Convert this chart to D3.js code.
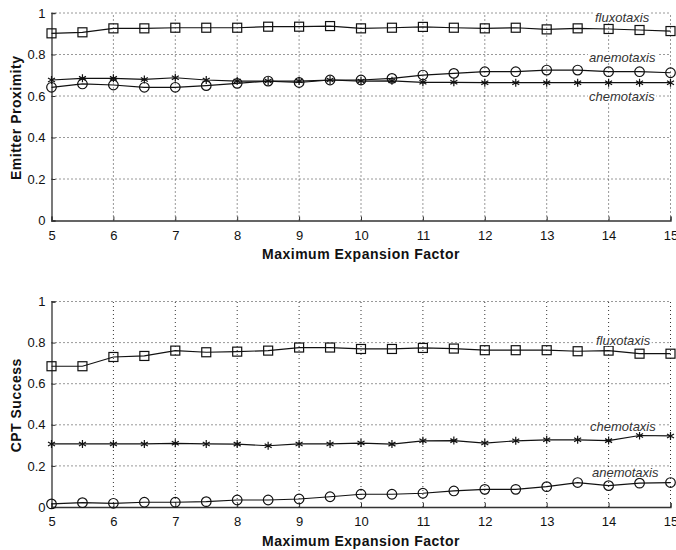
<!DOCTYPE html>
<html>
<head>
<meta charset="utf-8">
<script src="https://cdn.jsdelivr.net/npm/d3@7"></script>
<style>
  body { margin: 0; background: #fff; }
  svg { display: block; font-family: "Liberation Sans", Arial, sans-serif; }
  .tick text { font-size: 13px; fill: #111; }
  .axis-title { font-size: 14px; font-weight: bold; fill: #111; letter-spacing: 0.5px; }
  .series-label { font-size: 13px; font-style: italic; fill: #333; }
</style>
</head>
<body>
<div id="chart"></div>
<script>
const expansion = [5, 5.5, 6, 6.5, 7, 7.5, 8, 8.5, 9, 9.5, 10, 10.5, 11, 11.5, 12, 12.5, 13, 13.5, 14, 14.5, 15];
const xTicks = [5, 6, 7, 8, 9, 10, 11, 12, 13, 14, 15];
const yTicks = [0, 0.2, 0.4, 0.6, 0.8, 1];

// Emitter Proximity
const proxFluxotaxis = [0.902, 0.907, 0.926, 0.926, 0.929, 0.929, 0.929, 0.934, 0.934, 0.937, 0.926, 0.929, 0.933, 0.929, 0.926, 0.929, 0.921, 0.926, 0.923, 0.918, 0.913];
const proxChemotaxis = [0.677, 0.685, 0.685, 0.68, 0.688, 0.677, 0.672, 0.672, 0.672, 0.677, 0.672, 0.673, 0.666, 0.666, 0.664, 0.664, 0.664, 0.664, 0.664, 0.664, 0.664];
const proxAnemotaxis = [0.642, 0.658, 0.653, 0.642, 0.642, 0.65, 0.661, 0.672, 0.665, 0.677, 0.677, 0.685, 0.701, 0.709, 0.717, 0.717, 0.725, 0.725, 0.717, 0.717, 0.712];

// CPT Success
const cptFluxotaxis = [0.685, 0.685, 0.73, 0.735, 0.761, 0.753, 0.756, 0.761, 0.776, 0.776, 0.769, 0.769, 0.774, 0.771, 0.763, 0.763, 0.763, 0.758, 0.761, 0.746, 0.746];
const cptChemotaxis = [0.307, 0.307, 0.307, 0.307, 0.31, 0.307, 0.306, 0.298, 0.307, 0.307, 0.311, 0.306, 0.322, 0.323, 0.311, 0.322, 0.327, 0.327, 0.323, 0.348, 0.346];
const cptAnemotaxis = [0.015, 0.021, 0.018, 0.023, 0.023, 0.026, 0.034, 0.034, 0.039, 0.05, 0.062, 0.062, 0.067, 0.078, 0.086, 0.086, 0.099, 0.119, 0.104, 0.116, 0.119];

const panels = [
  {
    yTitle: "Emitter Proximity", top: 13, bottom: 220.5,
    series: [
      { name: "fluxotaxis", values: proxFluxotaxis, marker: "square", label: [595, 22] },
      { name: "anemotaxis", values: proxAnemotaxis, marker: "circle", label: [589, 62] },
      { name: "chemotaxis", values: proxChemotaxis, marker: "star", label: [589, 101] }
    ]
  },
  {
    yTitle: "CPT Success", top: 301.5, bottom: 507,
    series: [
      { name: "fluxotaxis", values: cptFluxotaxis, marker: "square", label: [596, 345] },
      { name: "chemotaxis", values: cptChemotaxis, marker: "star", label: [590, 431] },
      { name: "anemotaxis", values: cptAnemotaxis, marker: "circle", label: [592, 477] }
    ]
  }
];

const width = 676, height = 550;
const left = 51.5, right = 670.5;

const svg = d3.select("#chart").append("svg")
  .attr("width", width)
  .attr("height", height);

const x = d3.scaleLinear().domain([5, 15]).range([left, right]);

panels.forEach(p => {
  const y = d3.scaleLinear().domain([0, 1]).range([p.bottom, p.top]);
  const g = svg.append("g");

  // grid
  g.selectAll("line.vgrid")
    .data(xTicks.slice(1))
    .enter().append("line")
    .attr("x1", d => x(d)).attr("x2", d => x(d))
    .attr("y1", y(0)).attr("y2", y(1))
    .attr("stroke", "#333").attr("stroke-width", 1)
    .attr("stroke-dasharray", "1,3");
  g.selectAll("line.hgrid")
    .data(yTicks.slice(1))
    .enter().append("line")
    .attr("x1", x(5)).attr("x2", x(15))
    .attr("y1", d => y(d)).attr("y2", d => y(d))
    .attr("stroke", "#333").attr("stroke-width", 1)
    .attr("stroke-dasharray", "1,3");

  // axes
  const xAxis = g.append("g")
    .attr("transform", `translate(0,${p.bottom})`)
    .call(d3.axisBottom(x).tickValues(xTicks).tickSize(-4).tickPadding(8).tickFormat(d3.format("d")));
  const yAxis = g.append("g")
    .attr("transform", `translate(${left},0)`)
    .call(d3.axisLeft(y).tickValues(yTicks).tickSize(-4).tickPadding(6).tickFormat(d => d === 0 || d === 1 ? d : d3.format(".1f")(d)));
  [xAxis, yAxis].forEach(a => {
    a.select(".domain").attr("stroke", "#333").attr("stroke-width", 1.3);
    a.selectAll(".tick line").attr("stroke", "#333");
    a.selectAll(".tick text").attr("font-family", null).attr("font-size", null);
  });
  xAxis.selectAll(".tick text").attr("dy", "0.85em");

  // titles
  g.append("text").attr("class", "axis-title")
    .attr("x", (left + right) / 2).attr("y", p.bottom + 38.5)
    .attr("text-anchor", "middle")
    .text("Maximum Expansion Factor");
  g.append("text").attr("class", "axis-title")
    .attr("transform", `translate(21,${(p.top + p.bottom) / 2 + 1}) rotate(-90)`)
    .attr("text-anchor", "middle")
    .text(p.yTitle);

  const line = d3.line().x((d, i) => x(expansion[i])).y(d => y(d));

  p.series.forEach(s => {
    g.append("path")
      .datum(s.values)
      .attr("d", line)
      .attr("fill", "none")
      .attr("stroke", "#111")
      .attr("stroke-width", 1.2);

    const m = g.selectAll(null)
      .data(s.values)
      .enter().append("g")
      .attr("transform", (d, i) => `translate(${x(expansion[i])},${y(d)})`);
    if (s.marker === "square") {
      m.append("rect").attr("x", -4.5).attr("y", -4.5).attr("width", 9).attr("height", 9)
        .attr("fill", "none").attr("stroke", "#111").attr("stroke-width", 1.2);
    } else if (s.marker === "circle") {
      m.append("circle").attr("r", 4.8)
        .attr("fill", "none").attr("stroke", "#111").attr("stroke-width", 1.2);
    } else {
      m.append("path")
        .attr("d", "M0,-4V4M-3.5,-2L3.5,2M-3.5,2L3.5,-2")
        .attr("stroke", "#111").attr("stroke-width", 1.2);
    }
  });

  // series labels with white background
  p.series.forEach(s => {
    const t = g.append("text").attr("class", "series-label")
      .attr("x", s.label[0]).attr("y", s.label[1])
      .text(s.name);
    const b = t.node().getBBox();
    g.insert("rect", () => t.node())
      .attr("x", b.x - 1).attr("y", b.y + 2)
      .attr("width", b.width + 2).attr("height", b.height - 4)
      .attr("fill", "#fff");
  });
});
</script>
</body>
</html>
